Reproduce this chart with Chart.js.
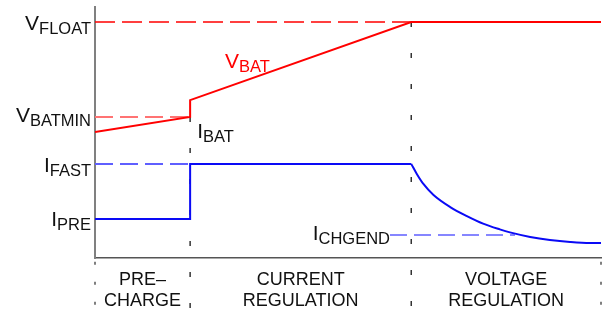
<!DOCTYPE html>
<html>
<head>
<meta charset="utf-8">
<script src="https://cdn.jsdelivr.net/npm/chart.js@4.4.0/dist/chart.umd.min.js"></script>
<style>
  html, body { margin: 0; padding: 0; background: #fff; }
  #wrap { width: 604px; height: 309px; }
</style>
</head>
<body>
<div id="wrap"><canvas id="chargeChart"></canvas></div>
<script>
// phase boundaries (time, % of charge cycle)
var phaseEdges = [0, 18.8, 62.5, 100];
var phaseNames = [["PRE–", "CHARGE"], ["CURRENT", "REGULATION"], ["VOLTAGE", "REGULATION"]];

// levels (% of full scale)
var vFloat = 94;
var vBatMin = 56.2;
var iFast = 37.5;
var iPre = 15.5;
var iChgEnd = 9.2;

// battery voltage trace
var vBatX = [0, 18.8, 18.8, 62.5, 100];
var vBatY = [50.2, 56.2, 62.9, 94, 94];

// charge current, precharge + fast charge part
var iBatX = [0, 18.8, 18.8, 62.5];
var iBatY = [iPre, iPre, iFast, iFast];

// charge current taper in voltage regulation
var taperX = [62.5, 63.6, 64.9, 66.9, 70.2, 73.5, 76.7, 80.0, 82.0, 86.0, 89.9, 93.9, 97.8, 100];
var taperY = [37.5, 33.5, 29.5, 25.1, 20.3, 16.7, 13.7, 11.4, 10.2, 8.4, 7.2, 6.4, 6.0, 6.0];

// span of the termination current marker
var chgEndX = [58.3, 83];

var FONT = '"Liberation Sans", Arial, sans-serif';

function pts(xs, ys) {
  return xs.map(function(x, i) { return {x: x, y: ys[i]}; });
}

// text with subscript, px = left or right edge, py = baseline of main letter
function drawSub(ctx, main, sub, px, py, align, color) {
  ctx.fillStyle = color;
  ctx.textAlign = "left";
  ctx.textBaseline = "alphabetic";
  ctx.font = "21px " + FONT;
  var w1 = ctx.measureText(main).width;
  ctx.font = "16.5px " + FONT;
  var w2 = ctx.measureText(sub).width;
  var x0 = align === "right" ? px - w1 - w2 : px;
  ctx.font = "21px " + FONT;
  ctx.fillText(main, x0, py);
  ctx.font = "16.5px " + FONT;
  ctx.fillText(sub, x0 + w1, py + 4);
}

var labelPlugin = {
  id: "chargeLabels",
  afterDraw: function(chart) {
    var ctx = chart.ctx;
    var xs = chart.scales.x, ys = chart.scales.y;
    var area = chart.chartArea;
    ctx.save();

    // level names left of the axis
    var side = [
      ["V", "FLOAT", vFloat, 8],
      ["V", "BATMIN", vBatMin, 5],
      ["I", "FAST", iFast, 8],
      ["I", "PRE", iPre, 7]
    ];
    side.forEach(function(s) {
      drawSub(ctx, s[0], s[1], area.left - 4, ys.getPixelForValue(s[2]) + s[3], "right", "#111");
    });

    // trace names
    drawSub(ctx, "V", "BAT", xs.getPixelForValue(25.7), ys.getPixelForValue(75.7), "left", "#ff0000");
    drawSub(ctx, "I", "BAT", xs.getPixelForValue(20.2), ys.getPixelForValue(47.8), "left", "#111");
    drawSub(ctx, "I", "CHGEND", xs.getPixelForValue(chgEndX[0]), ys.getPixelForValue(iChgEnd) + 5, "right", "#111");

    // phase names under the axis
    ctx.font = "18px " + FONT;
    ctx.fillStyle = "#111";
    ctx.textAlign = "center";
    for (var i = 0; i < phaseNames.length; i++) {
      var cx = (xs.getPixelForValue(phaseEdges[i]) + xs.getPixelForValue(phaseEdges[i + 1])) / 2;
      ctx.fillText(phaseNames[i][0], cx, area.bottom + 27);
      ctx.fillText(phaseNames[i][1], cx, area.bottom + 47.5);
    }
    ctx.restore();
  }
};

new Chart("chargeChart", {
  type: "line",
  data: {
    datasets: [{
      data: pts(vBatX, vBatY), // vbat
      borderColor: "#ff0000",
      borderWidth: 2
    }, {
      data: pts(iBatX, iBatY), // ibat
      borderColor: "#0a0af5",
      borderWidth: 2
    }, {
      data: pts(taperX, taperY), // ibat taper
      borderColor: "#0a0af5",
      borderWidth: 2,
      cubicInterpolationMode: "monotone"
    }, {
      data: [{x: phaseEdges[0], y: vFloat}, {x: phaseEdges[2], y: vFloat}],
      borderColor: "#ff0000",
      borderWidth: 1.5,
      borderDash: [20, 7]
    }, {
      data: [{x: phaseEdges[0], y: vBatMin}, {x: phaseEdges[1], y: vBatMin}],
      borderColor: "rgb(255,115,115)",
      borderWidth: 2,
      borderDash: [18, 7]
    }, {
      data: [{x: phaseEdges[0], y: iFast}, {x: phaseEdges[1], y: iFast}],
      borderColor: "rgb(95,95,255)",
      borderWidth: 2,
      borderDash: [18, 7]
    }, {
      data: [{x: chgEndX[0], y: iChgEnd}, {x: chgEndX[1], y: iChgEnd}],
      borderColor: "rgb(95,95,255)",
      borderWidth: 1.5,
      borderDash: [17, 7]
    }, {
      data: [{x: phaseEdges[1], y: vBatMin}, {x: phaseEdges[1], y: -20}],
      borderColor: "#333",
      borderWidth: 1.5,
      borderDash: [5, 26],
      clip: false
    }, {
      data: [{x: phaseEdges[2], y: vFloat}, {x: phaseEdges[2], y: -20}],
      borderColor: "#333",
      borderWidth: 1.5,
      borderDash: [5, 26],
      clip: false
    }, {
      data: [{x: phaseEdges[0], y: -1.5}, {x: phaseEdges[0], y: -20}],
      borderColor: "#555",
      borderWidth: 1.5,
      borderDash: [3, 17],
      clip: false
    }, {
      data: [{x: phaseEdges[3], y: -1.5}, {x: phaseEdges[3], y: -20}],
      borderColor: "#555",
      borderWidth: 1.5,
      borderDash: [3, 17],
      clip: false
    }]
  },
  options: {
    responsive: true,
    maintainAspectRatio: false,
    animation: false,
    layout: {padding: {left: 95, right: 3, top: 7, bottom: 51}},
    elements: {point: {radius: 0}, line: {tension: 0, fill: false}},
    plugins: {legend: {display: false}, tooltip: {enabled: false}},
    scales: {
      x: {
        type: "linear", min: 0, max: 100,
        grid: {display: false, drawTicks: false},
        ticks: {display: false},
        border: {display: true, color: "#555", width: 1.5}
      },
      y: {
        type: "linear", min: 0, max: 100,
        grid: {display: false, drawTicks: false},
        ticks: {display: false},
        border: {display: true, color: "#808080", width: 2}
      }
    }
  },
  plugins: [labelPlugin]
});
</script>
</body>
</html>
